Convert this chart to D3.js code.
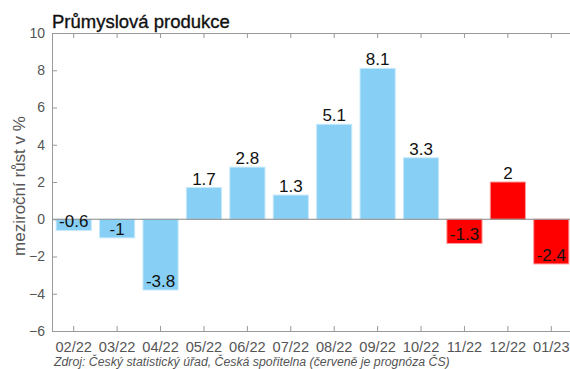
<!DOCTYPE html>
<html><head><meta charset="utf-8">
<script src="https://cdn.jsdelivr.net/npm/d3@7"></script>
<style>body{margin:0;background:#fff}svg{display:block}</style>
</head><body>
<script>
const categories = ["02/22","03/22","04/22","05/22","06/22","07/22","08/22","09/22","10/22","11/22","12/22","01/23"];
const values = [-0.6,-1,-3.8,1.7,2.8,1.3,5.1,8.1,3.3,-1.3,2,-2.4];
const forecast = [false,false,false,false,false,false,false,false,false,true,true,true];
const yTicks = [-6,-4,-2,0,2,4,6,8,10];

const W = 570, H = 369;
const svg = d3.select("body").append("svg").attr("width", W).attr("height", H);
const x = d3.scaleBand().domain(categories).range([52, 573]).paddingInner(0.19).paddingOuter(0.095);
const y = d3.scaleLinear().domain([-6, 10]).range([331, 33]);
const font = "Liberation Sans, Arial, sans-serif";
const axisCol = "#999";

// bars
svg.selectAll("rect.bar").data(values).enter().append("rect")
  .attr("x", (d,i) => x(categories[i]))
  .attr("width", x.bandwidth())
  .attr("y", d => y(Math.max(0, d)))
  .attr("height", d => Math.abs(y(d) - y(0)))
  .attr("fill", (d,i) => forecast[i] ? "#ff0000" : "#87cff4")
  .attr("stroke", (d,i) => forecast[i] ? "#ff9a9a" : "#c6e9fb")
  .attr("stroke-width", 1);

// zero line
svg.append("line").attr("x1", 52).attr("x2", 573).attr("y1", y(0)).attr("y2", y(0))
  .attr("stroke", "#888").attr("stroke-width", 1);

// left axis
const yAxis = d3.axisLeft(y).tickValues(yTicks).tickSizeInner(-5).tickSizeOuter(0).tickPadding(7);
const gy = svg.append("g").attr("transform", "translate(52,0)").call(yAxis);
gy.select(".domain").attr("stroke", axisCol);
gy.selectAll(".tick line").attr("stroke", axisCol);
gy.selectAll("text").attr("font-family", font).attr("font-size", 14).attr("fill", "#555");

// bottom axis
const xAxis = d3.axisBottom(x).tickSizeInner(-5).tickSizeOuter(0).tickPadding(10.5);
const gx = svg.append("g").attr("transform", "translate(0,331)").call(xAxis);
gx.select(".domain").attr("stroke", axisCol);
gx.selectAll(".tick line").attr("stroke", axisCol);
gx.selectAll("text").attr("font-family", font).attr("font-size", 14.6).attr("fill", "#555");

// top axis (mirror)
const xTop = d3.axisTop(x).tickSizeInner(-5).tickSizeOuter(0).tickFormat("");
const gt = svg.append("g").attr("transform", "translate(0,33)").call(xTop);
gt.select(".domain").attr("stroke", axisCol);
gt.selectAll(".tick line").attr("stroke", axisCol);

// value labels
svg.selectAll("text.val").data(values).enter().append("text")
  .attr("x", (d,i) => x(categories[i]) + x.bandwidth()/2)
  .attr("y", d => y(d) - 3)
  .attr("text-anchor", "middle")
  .attr("font-family", font).attr("font-size", 17).attr("fill", "#111")
  .text(d => String(d));

// title
svg.append("text").attr("x", 52).attr("y", 28).attr("font-family", font)
  .attr("font-size", 18.5).attr("fill", "#111")
  .attr("stroke", "#111").attr("stroke-width", 0.35)
  .text("Průmyslová produkce");

// y label
svg.append("text").attr("transform", "translate(25,186) rotate(-90)")
  .attr("text-anchor", "middle").attr("font-family", font).attr("font-size", 17).attr("fill", "#555")
  .text("meziroční růst v %");

// source
svg.append("text").attr("x", 54).attr("y", 366).attr("font-family", font)
  .attr("font-size", 12.3).attr("font-style", "italic").attr("fill", "#555")
  .text("Zdroj: Český statistický úřad, Česká spořitelna (červeně je prognóza ČS)");
</script>
</body></html>
